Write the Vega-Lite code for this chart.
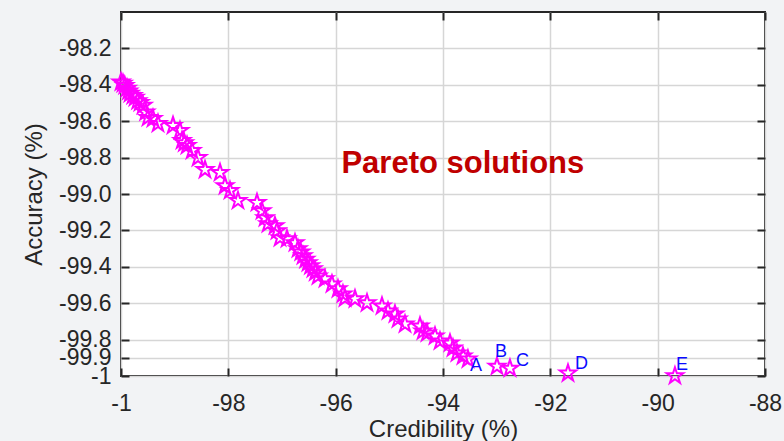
{
  "$schema": "https://vega.github.io/schema/vega-lite/v6.json",
  "width": 644,
  "height": 364,
  "autosize": {"type": "none"},
  "padding": {"left": 121, "top": 12, "right": 19, "bottom": 65},
  "background": "#f2f3f5",
  "config": {
    "font": "Liberation Sans",
    "view": {"fill": "white", "stroke": "#262626", "strokeWidth": 2},
    "axis": {
      "labelFont": "Liberation Sans",
      "titleFont": "Liberation Sans",
      "labelFontSize": 23,
      "titleFontSize": 24,
      "labelColor": "#262626",
      "titleColor": "#262626",
      "titleFontWeight": "normal",
      "labelOverlap": false,
      "labelFlush": false,
      "domain": false,
      "tickColor": "#262626",
      "tickWidth": 2,
      "tickSize": -8,
      "gridColor": "#d6d6d6",
      "gridWidth": 1.5,
      "gridOpacity": 1
    }
  },
  "datasets": {
    "pts": [
      {"c": -100.0, "a": -98.385}, {"c": -99.963, "a": -98.393}, {"c": -99.93, "a": -98.405}, {"c": -99.888, "a": -98.42},
      {"c": -99.86, "a": -98.435}, {"c": -99.832, "a": -98.448}, {"c": -99.78, "a": -98.46}, {"c": -99.739, "a": -98.47},
      {"c": -99.69, "a": -98.488}, {"c": -99.646, "a": -98.498}, {"c": -99.59, "a": -98.514}, {"c": -99.54, "a": -98.55},
      {"c": -99.497, "a": -98.58}, {"c": -99.404, "a": -98.586}, {"c": -99.311, "a": -98.613}, {"c": -99.031, "a": -98.624},
      {"c": -98.901, "a": -98.652}, {"c": -98.863, "a": -98.707}, {"c": -98.82, "a": -98.72}, {"c": -98.77, "a": -98.734},
      {"c": -98.677, "a": -98.762}, {"c": -98.565, "a": -98.801}, {"c": -98.435, "a": -98.867}, {"c": -98.155, "a": -98.883},
      {"c": -98.062, "a": -98.955}, {"c": -97.969, "a": -98.982}, {"c": -97.82, "a": -99.037}, {"c": -97.466, "a": -99.048},
      {"c": -97.373, "a": -99.093}, {"c": -97.317, "a": -99.131}, {"c": -97.261, "a": -99.164}, {"c": -97.131, "a": -99.175},
      {"c": -97.093, "a": -99.203}, {"c": -97.037, "a": -99.241}, {"c": -96.907, "a": -99.247}, {"c": -96.758, "a": -99.269},
      {"c": -96.702, "a": -99.302}, {"c": -96.65, "a": -99.32}, {"c": -96.609, "a": -99.34}, {"c": -96.56, "a": -99.36},
      {"c": -96.516, "a": -99.379}, {"c": -96.47, "a": -99.395}, {"c": -96.423, "a": -99.412}, {"c": -96.38, "a": -99.43},
      {"c": -96.329, "a": -99.451}, {"c": -96.199, "a": -99.467}, {"c": -96.069, "a": -99.495}, {"c": -95.957, "a": -99.522},
      {"c": -95.864, "a": -99.55}, {"c": -95.826, "a": -99.572}, {"c": -95.64, "a": -99.577}, {"c": -95.416, "a": -99.599},
      {"c": -95.137, "a": -99.616}, {"c": -95.025, "a": -99.644}, {"c": -94.895, "a": -99.66}, {"c": -94.839, "a": -99.688},
      {"c": -94.708, "a": -99.715}, {"c": -94.429, "a": -99.726}, {"c": -94.373, "a": -99.754}, {"c": -94.298, "a": -99.765},
      {"c": -94.149, "a": -99.781}, {"c": -94.056, "a": -99.809}, {"c": -93.87, "a": -99.82}, {"c": -93.814, "a": -99.847},
      {"c": -93.74, "a": -99.875}, {"c": -93.628, "a": -99.891}, {"c": -93.535, "a": -99.908},
      {"c": -92.994, "a": -99.947}, {"c": -92.752, "a": -99.958}, {"c": -91.671, "a": -99.985}, {"c": -89.678, "a": -100.0}
    ],
    "labels": [
      {"c": -93.497, "a": -99.974, "t": "A"},
      {"c": -93.031, "a": -99.897, "t": "B"},
      {"c": -92.64, "a": -99.947, "t": "C"},
      {"c": -91.541, "a": -99.963, "t": "D"},
      {"c": -89.659, "a": -99.969, "t": "E"}
    ],
    "note": [{"c": -93.63, "a": -98.834, "t": "Pareto solutions"}]
  },
  "layer": [
    {
      "data": {"name": "pts"},
      "mark": {
        "type": "point",
        "shape": "M0,-1L0.2245,-0.309L0.951,-0.309L0.363,0.118L0.588,0.809L0,0.382L-0.588,0.809L-0.363,0.118L-0.951,-0.309L-0.2245,-0.309Z",
        "filled": false,
        "stroke": "#ff00ff",
        "strokeWidth": 2,
        "size": 300,
        "opacity": 1,
        "clip": false
      },
      "encoding": {
        "x": {
          "field": "c", "type": "quantitative",
          "scale": {"domain": [-100, -88], "nice": false, "zero": false},
          "axis": {
            "orient": "bottom",
            "values": [-100, -98, -96, -94, -92, -90, -88],
            "labelExpr": "datum.value <= -99.99 ? '-1' : replace(format(datum.value, 'd'), '\u2212', '-')",
            "labelPadding": 24,
            "title": "Credibility (%)",
            "titlePadding": 2
          }
        },
        "y": {
          "field": "a", "type": "quantitative",
          "scale": {"domain": [-100, -98.0], "nice": false, "zero": false},
          "axis": {
            "orient": "left",
            "values": [-98.2, -98.4, -98.6, -98.8, -99.0, -99.2, -99.4, -99.6, -99.8, -99.9, -100],
            "labelExpr": "datum.value <= -99.99 ? '-1' : replace(format(datum.value, '.1f'), '\u2212', '-')",
            "labelPadding": 18,
            "title": "Accuracy (%)",
            "titlePadding": 12
          }
        }
      }
    },
    {
      "data": {"name": "pts"},
      "mark": {"type": "point", "opacity": 0},
      "encoding": {
        "x": {
          "field": "c", "type": "quantitative",
          "axis": {"orient": "top", "values": [-100, -98, -96, -94, -92, -90, -88], "labels": false, "grid": false, "title": null}
        },
        "y": {
          "field": "a", "type": "quantitative",
          "axis": {"orient": "right", "values": [-98.2, -98.4, -98.6, -98.8, -99.0, -99.2, -99.4, -99.6, -99.8, -99.9, -100], "labels": false, "grid": false, "title": null}
        }
      }
    },
    {
      "data": {"name": "labels"},
      "mark": {"type": "text", "align": "left", "baseline": "alphabetic", "fontSize": 18, "color": "#0a0aff", "font": "Liberation Sans"},
      "encoding": {
        "x": {"field": "c", "type": "quantitative", "axis": null},
        "y": {"field": "a", "type": "quantitative", "axis": null},
        "text": {"field": "t"}
      }
    },
    {
      "data": {"name": "note"},
      "mark": {"type": "text", "align": "center", "baseline": "middle", "fontSize": 31, "fontWeight": "bold", "color": "#c00000", "font": "Liberation Sans"},
      "encoding": {
        "x": {"field": "c", "type": "quantitative", "axis": null},
        "y": {"field": "a", "type": "quantitative", "axis": null},
        "text": {"field": "t"}
      }
    }
  ],
  "resolve": {"axis": {"x": "independent", "y": "independent"}}
}
